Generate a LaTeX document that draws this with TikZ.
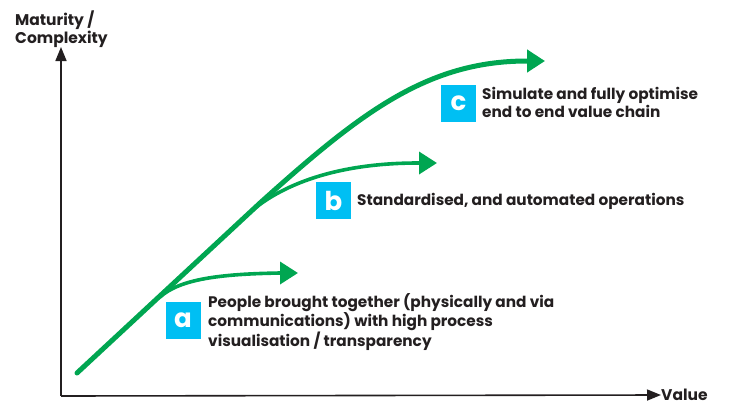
\documentclass[tikz,border=0pt]{standalone}
\usepackage{fontspec}
\setmainfont{Poppins}
\usetikzlibrary{arrows.meta}
\definecolor{mygreen}{RGB}{0,166,81}
\definecolor{mycyan}{RGB}{0,191,243}
\definecolor{mytext}{RGB}{35,31,32}
\begin{document}
\begin{tikzpicture}[x=1pt,y=-1pt,
  axisline/.style={line width=1.6pt, draw=mytext, -{Triangle[length=14pt,width=11pt]}},
  trend/.style={line width=5pt, draw=mygreen, line cap=round, -{Triangle[length=18pt,width=22pt]}},
  branch/.style={line width=3.6pt, draw=mygreen, -{Triangle[length=18pt,width=22pt]}},
  letterbox/.style={fill=mycyan, text=white, minimum width=35pt, minimum height=37pt, inner sep=0pt, font=\fontsize{26}{26}\selectfont\bfseries},
  desc/.style={text=mytext, anchor=west, align=left, inner sep=0pt, font=\fontsize{15.3}{18}\selectfont\bfseries},
  axlabel/.style={text=mytext, inner sep=0pt, align=left, font=\fontsize{15.5}{18}\selectfont\bfseries}
]
\useasboundingbox (0,0) rectangle (731,405);
% axes
\coordinate (O) at (61,396);
\coordinate (ytop) at (61,47);
\node[axlabel, anchor=west] (ylab) at (15,29) {Maturity /\\Complexity};
\node[axlabel, anchor=west] (xlab) at (661,395) {Value};
\draw[axisline] (O) -- (ytop);
\draw[axisline] (O) -- (xlab.west);
% main trend
\coordinate (m0) at (77,373);
\coordinate (m1) at (260,203);
\coordinate (m2) at (527,61);
\coordinate (m3) at (545,61);
\draw[trend] (m0) -- (m1) .. controls (360,113) and (427,61) .. (m2) -- (m3);
% branch a
\coordinate (a0) at (160,297);
\coordinate (a1) at (280,273);
\coordinate (a2) at (298,273);
\draw[branch] (a0) .. controls (180,279) and (220,274) .. (a1) -- (a2);
% branch b
\coordinate (b0) at (248,214);
\coordinate (b1) at (418,163);
\coordinate (b2) at (437,163);
\draw[branch] (b0) .. controls (270,194) and (320,163) .. (b1) -- (b2);
% boxes and texts
\node[letterbox] (ba) at (183,320.5) {a};
\node[letterbox] (bb) at (333.5,200.5) {b};
\node[letterbox] (bc) at (458.5,103.5) {c};
\node[desc] (ta) at (208,322) {People brought together (physically and via\\communications) with high process\\visualisation / transparency};
\node[desc] (tb) at (357,201) {Standardised, and automated operations};
\node[desc] (tc) at (482,102) {Simulate and fully optimise\\end to end value chain};
\end{tikzpicture}
\end{document}
